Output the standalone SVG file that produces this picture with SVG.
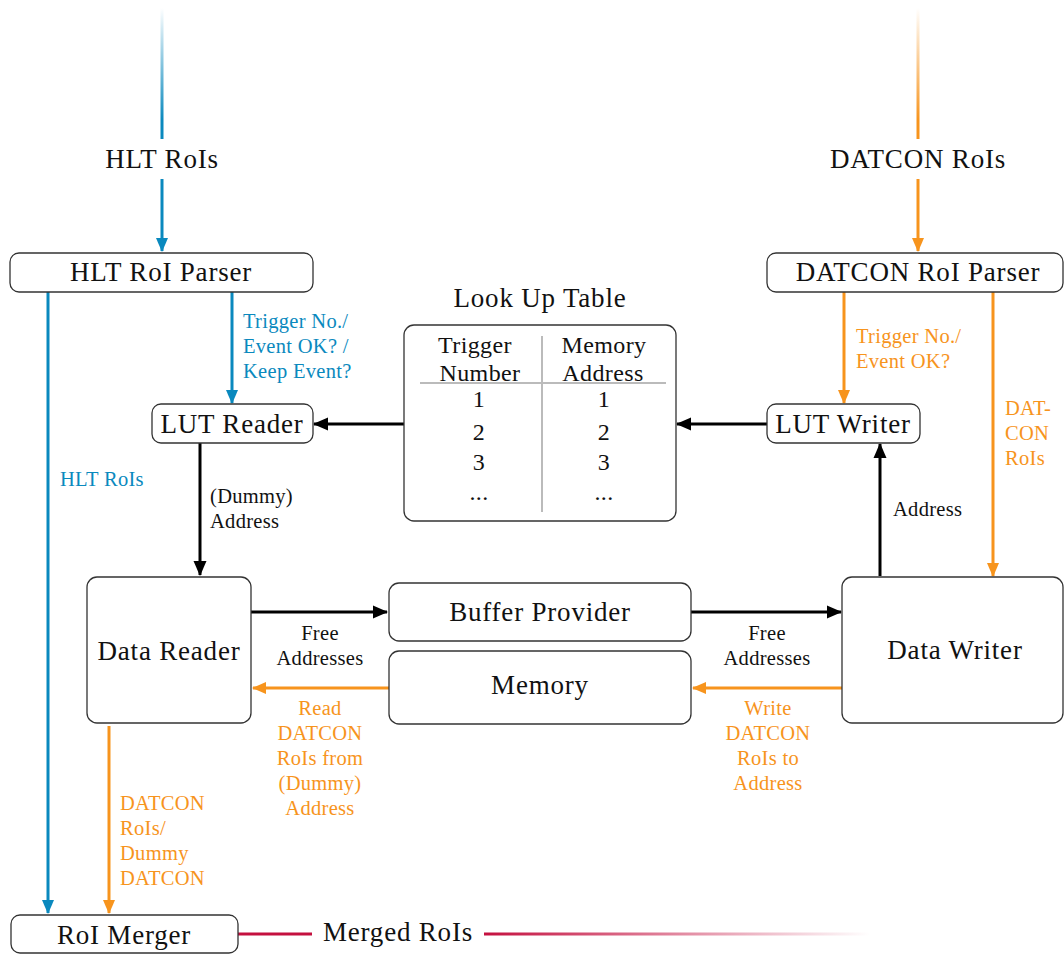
<svg xmlns="http://www.w3.org/2000/svg" width="1064" height="954" viewBox="0 0 1064 954">
<style>
.box{fill:#fff;stroke:#333;stroke-width:1.3}
.nt{font-family:"Liberation Serif",serif;font-size:27px;fill:#111;text-anchor:middle;letter-spacing:0.8px}
.lb{font-family:"Liberation Serif",serif;font-size:20.5px;letter-spacing:0.3px}
.bl{fill:#0a89be}
.or{fill:#f7941d}
.bk{fill:#111}
.c{text-anchor:middle}
.lnb{stroke:#0a89be;stroke-width:3;fill:none}
.lno{stroke:#f7941d;stroke-width:3;fill:none}
.lnk{stroke:#000;stroke-width:3;fill:none}
.tb{font-family:"Liberation Serif",serif;font-size:24px;fill:#111;text-anchor:middle;letter-spacing:0.4px}
</style>
<defs>
<marker id="ab" markerWidth="14" markerHeight="14" viewBox="0 0 14 14" refX="13" refY="7" orient="auto" markerUnits="userSpaceOnUse"><path d="M0,1 L14,7 L0,13 Z" fill="#0a89be"/></marker>
<marker id="ao" markerWidth="14" markerHeight="14" viewBox="0 0 14 14" refX="13" refY="7" orient="auto" markerUnits="userSpaceOnUse"><path d="M0,1 L14,7 L0,13 Z" fill="#f7941d"/></marker>
<marker id="ak" markerWidth="15" markerHeight="15" viewBox="0 0 15 15" refX="14" refY="7.5" orient="auto" markerUnits="userSpaceOnUse"><path d="M0,1 L15,7.5 L0,14 Z" fill="#000"/></marker>
<linearGradient id="gb" gradientUnits="userSpaceOnUse" x1="0" y1="8" x2="0" y2="120"><stop offset="0" stop-color="#0a89be" stop-opacity="0"/><stop offset="1" stop-color="#0a89be"/></linearGradient>
<linearGradient id="go" gradientUnits="userSpaceOnUse" x1="0" y1="8" x2="0" y2="120"><stop offset="0" stop-color="#f7941d" stop-opacity="0"/><stop offset="1" stop-color="#f7941d"/></linearGradient>
<linearGradient id="gr" gradientUnits="userSpaceOnUse" x1="484" y1="0" x2="870" y2="0"><stop offset="0" stop-color="#c4103f"/><stop offset="1" stop-color="#c4103f" stop-opacity="0"/></linearGradient>
</defs>

<g id="connectors">
<line x1="162" y1="8" x2="162" y2="139" stroke="url(#gb)" stroke-width="3"/>
<text x="162" y="168" class="nt">HLT RoIs</text>
<line class="lnb" x1="162" y1="179" x2="162" y2="251" marker-end="url(#ab)"/>
<line x1="918" y1="8" x2="918" y2="139" stroke="url(#go)" stroke-width="3"/>
<text x="918" y="168" class="nt">DATCON RoIs</text>
<line class="lno" x1="918" y1="179" x2="918" y2="251" marker-end="url(#ao)"/>

<line class="lnb" x1="232" y1="292" x2="232" y2="403" marker-end="url(#ab)"/>
<text class="lb bl" x="243" y="328">Trigger No./</text>
<text class="lb bl" x="243" y="353">Event OK? /</text>
<text class="lb bl" x="243" y="378">Keep Event?</text>

<line class="lnb" x1="48" y1="292" x2="48" y2="913" marker-end="url(#ab)"/>
<text class="lb bl" x="60" y="486">HLT RoIs</text>

<line class="lno" x1="844" y1="292" x2="844" y2="403" marker-end="url(#ao)"/>
<text class="lb or" x="856" y="343">Trigger No./</text>
<text class="lb or" x="856" y="368">Event OK?</text>

<line class="lno" x1="993" y1="292" x2="993" y2="576" marker-end="url(#ao)"/>
<text class="lb or" x="1005" y="415">DAT-</text>
<text class="lb or" x="1005" y="440">CON</text>
<text class="lb or" x="1005" y="465">RoIs</text>

<line class="lnk" x1="404" y1="424" x2="314" y2="424" marker-end="url(#ak)"/>
<line class="lnk" x1="767" y1="424" x2="677" y2="424" marker-end="url(#ak)"/>

<line class="lnk" x1="880" y1="576" x2="880" y2="444" marker-end="url(#ak)"/>
<text class="lb bk" x="893" y="516">Address</text>

<line class="lnk" x1="200" y1="443" x2="200" y2="575" marker-end="url(#ak)"/>
<text class="lb bk" x="210" y="503">(Dummy)</text>
<text class="lb bk" x="210" y="528">Address</text>

<line class="lnk" x1="251" y1="612" x2="387" y2="612" marker-end="url(#ak)"/>
<text class="lb bk c" x="320" y="640">Free</text>
<text class="lb bk c" x="320" y="665">Addresses</text>
<line class="lnk" x1="691" y1="612" x2="841" y2="612" marker-end="url(#ak)"/>
<text class="lb bk c" x="767" y="640">Free</text>
<text class="lb bk c" x="767" y="665">Addresses</text>

<line class="lno" x1="389" y1="688" x2="253" y2="688" marker-end="url(#ao)"/>
<text class="lb or c" x="320" y="715">Read</text>
<text class="lb or c" x="320" y="740">DATCON</text>
<text class="lb or c" x="320" y="765">RoIs from</text>
<text class="lb or c" x="320" y="790">(Dummy)</text>
<text class="lb or c" x="320" y="815">Address</text>
<line class="lno" x1="842" y1="688" x2="693" y2="688" marker-end="url(#ao)"/>
<text class="lb or c" x="768" y="715">Write</text>
<text class="lb or c" x="768" y="740">DATCON</text>
<text class="lb or c" x="768" y="765">RoIs to</text>
<text class="lb or c" x="768" y="790">Address</text>

<line class="lno" x1="109" y1="726" x2="109" y2="913" marker-end="url(#ao)"/>
<text class="lb or" x="120" y="810">DATCON</text>
<text class="lb or" x="120" y="835">RoIs/</text>
<text class="lb or" x="120" y="860">Dummy</text>
<text class="lb or" x="120" y="885">DATCON</text>

<line x1="238" y1="934" x2="312" y2="934" stroke="#c4103f" stroke-width="3"/>
<text x="398" y="941" class="nt">Merged RoIs</text>
<line x1="484" y1="934" x2="870" y2="934" stroke="url(#gr)" stroke-width="3"/>
</g>

<g id="hlt-parser"><rect class="box" x="10" y="253" width="303" height="39" rx="9"/><text class="nt" x="161" y="281">HLT RoI Parser</text></g>
<g id="datcon-parser"><rect class="box" x="767" y="253" width="296" height="39" rx="9"/><text class="nt" x="918" y="281">DATCON RoI Parser</text></g>
<g id="lut-reader"><rect class="box" x="152" y="404" width="161" height="39" rx="9"/><text class="nt" x="232" y="433">LUT Reader</text></g>
<g id="lut-writer"><rect class="box" x="767" y="404" width="153" height="39" rx="9"/><text class="nt" x="843" y="433">LUT Writer</text></g>
<g id="lut">
<text class="nt" x="540" y="307">Look Up Table</text>
<rect class="box" x="404" y="325" width="272" height="196" rx="10"/>
<line x1="542" y1="336" x2="542" y2="512" stroke="#bbb" stroke-width="2"/>
<line x1="420" y1="383" x2="666" y2="383" stroke="#bbb" stroke-width="2"/>
<text class="tb" x="475" y="353">Trigger</text><text class="tb" x="480" y="381">Number</text>
<text class="tb" x="604" y="353">Memory</text><text class="tb" x="603" y="381">Address</text>
<text class="tb" x="479" y="407">1</text><text class="tb" x="604" y="407">1</text>
<text class="tb" x="479" y="440">2</text><text class="tb" x="604" y="440">2</text>
<text class="tb" x="479" y="470">3</text><text class="tb" x="604" y="470">3</text>
<text class="tb" x="479" y="500">...</text><text class="tb" x="604" y="500">...</text>
</g>
<g id="data-reader"><rect class="box" x="87" y="577" width="164" height="146" rx="10"/><text class="nt" x="169" y="660">Data Reader</text></g>
<g id="buffer-provider"><rect class="box" x="389" y="583" width="302" height="58" rx="10"/><text class="nt" x="540" y="621">Buffer Provider</text></g>
<g id="memory"><rect class="box" x="389" y="651" width="302" height="73" rx="10"/><text class="nt" x="540" y="694">Memory</text></g>
<g id="data-writer"><rect class="box" x="842" y="577" width="221" height="146" rx="10"/><text class="nt" x="955" y="659">Data Writer</text></g>
<g id="roi-merger"><rect class="box" x="11" y="915" width="227" height="38" rx="9"/><text class="nt" x="124" y="944">RoI Merger</text></g>
</svg>
